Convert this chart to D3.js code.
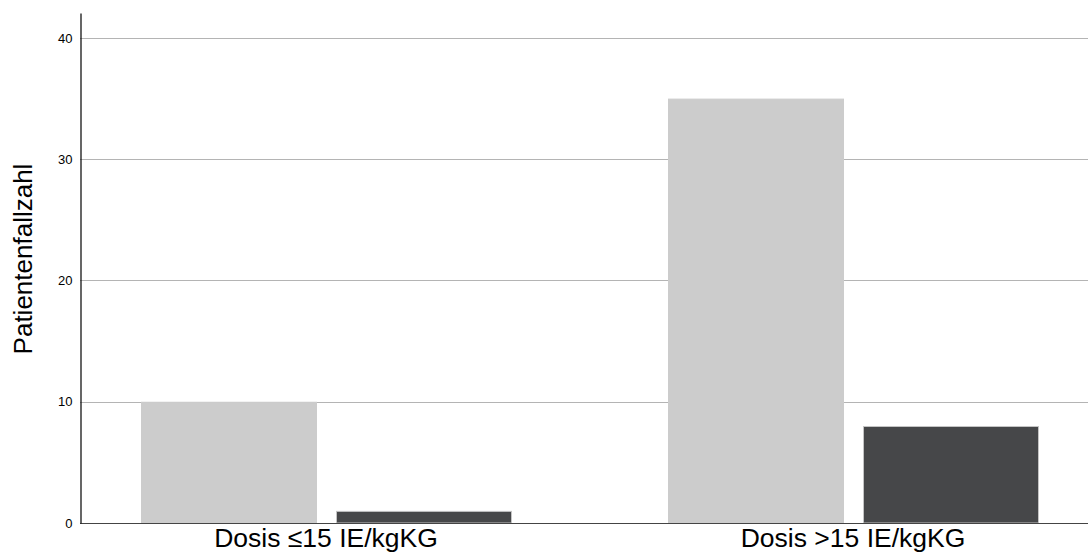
<!DOCTYPE html>
<html>
<head>
<meta charset="utf-8">
<script src="https://cdn.jsdelivr.net/npm/d3@7"></script>
<style>
html,body{margin:0;padding:0;background:#fff;}
svg{display:block;font-family:"Liberation Sans",Arial,sans-serif;}
</style>
</head>
<body>
<svg id="chart" width="1088" height="558"></svg>
<script>
const categories = ["Dosis \u226415 IE/kgKG", "Dosis >15 IE/kgKG"];
const seriesNames = ["A", "B"];
const seriesA = [10, 35];
const seriesB = [1, 8];
const yTicks = [0, 10, 20, 30, 40];
const yTitle = "Patientenfallzahl";
const colors = ["#cccccc", "#464749"];
const strokes = ["#cccccc", "#c4c4c4"];

const svg = d3.select("#chart");
const W = 1088, H = 558;
const x0Left = 80, yBottom = 523, yTop = 13;

const y = d3.scaleLinear().domain([0, 42.06]).range([yBottom, yTop]);
const x0 = d3.scaleBand().domain(categories).range([62.5, 1116.5]).padding(0);
const x1 = d3.scaleBand().domain(seriesNames).range([78.5, 449.5]).paddingInner(19/195).paddingOuter(0);

const data = categories.map((c, i) => ({cat: c, vals: [seriesA[i], seriesB[i]]}));

// gridlines
svg.append("g").selectAll("line").data(yTicks.filter(d => d > 0)).join("line")
  .attr("x1", x0Left).attr("x2", W)
  .attr("y1", d => Math.round(y(d)) + 0.5).attr("y2", d => Math.round(y(d)) + 0.5)
  .attr("stroke", "#b4b4b4").attr("stroke-width", 1);

// bars
const g = svg.append("g").selectAll("g").data(data).join("g")
  .attr("transform", d => `translate(${x0(d.cat)},0)`);
g.selectAll("rect").data(d => d.vals.map((v, j) => ({s: seriesNames[j], v, j}))).join("rect")
  .attr("x", d => x1(d.s) + 0.5)
  .attr("y", d => y(d.v) + 0.5)
  .attr("width", x1.bandwidth() - 1)
  .attr("height", d => yBottom - y(d.v) - 0.5)
  .attr("fill", d => colors[d.j])
  .attr("stroke", d => strokes[d.j])
  .attr("stroke-width", 1);

// baseline
svg.append("line").attr("x1", x0Left).attr("x2", W)
  .attr("y1", yBottom + 0.5).attr("y2", yBottom + 0.5)
  .attr("stroke", "#444444").attr("stroke-width", 1);

// y axis
const yAxis = d3.axisLeft(y).tickValues(yTicks).tickSize(0).tickPadding(8);
const ya = svg.append("g").attr("transform", `translate(${x0Left + 0.5},0)`).call(yAxis);
ya.select(".domain").attr("stroke", "#000").attr("stroke-width", 1.2);
ya.selectAll("text").attr("font-size", 13).attr("fill", "#000")
  .attr("font-family", "'Liberation Sans',Arial,sans-serif");

// x labels
const xAxis = d3.axisBottom(x0).tickSize(0).tickPadding(5);
const xa = svg.append("g").attr("transform", `translate(0,${yBottom})`).call(xAxis);
xa.select(".domain").remove();
xa.selectAll("text").attr("font-size", 26.5).attr("fill", "#000")
  .attr("font-family", "'Liberation Sans',Arial,sans-serif");

// y title
svg.append("text")
  .attr("transform", `translate(32,259) rotate(-90)`)
  .attr("text-anchor", "middle")
  .attr("font-size", 26)
  .attr("fill", "#000")
  .text(yTitle);
</script>
</body>
</html>
